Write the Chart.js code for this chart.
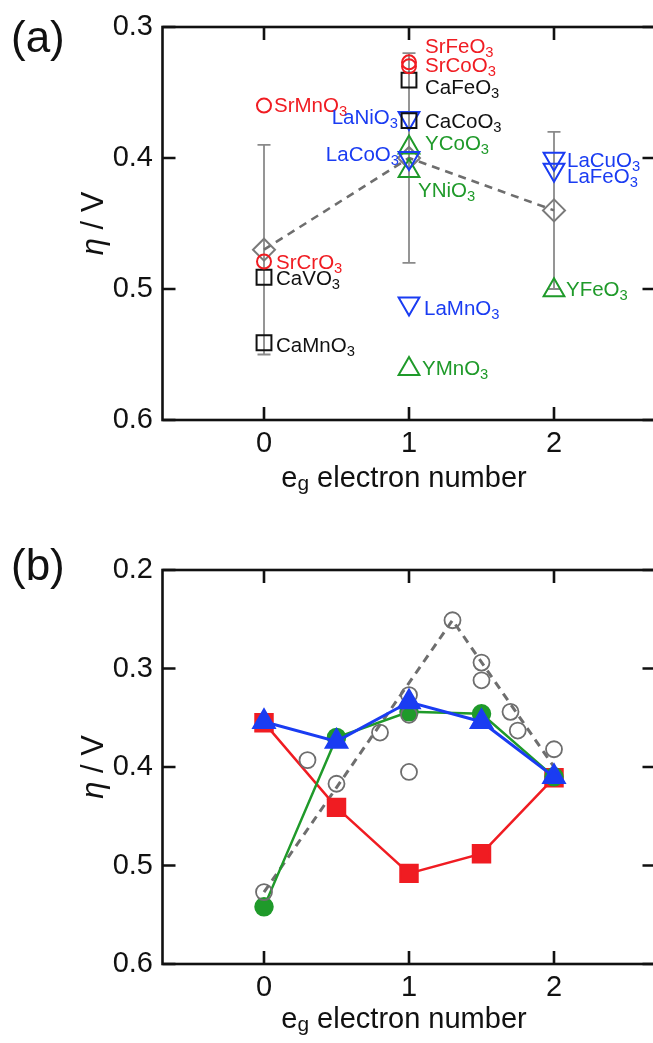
<!DOCTYPE html>
<html><head><meta charset="utf-8">
<script src="https://cdn.jsdelivr.net/npm/chart.js@4.4.1/dist/chart.umd.min.js"></script>
<style>
html,body{margin:0;padding:0;background:#fff;overflow:hidden;width:653px;height:1043px}
.wrap{position:absolute;left:0;width:664px}
#wa{top:0;height:510px}
#wb{top:510px;height:533px}
canvas{display:block}
</style></head><body>
<div id="wa" class="wrap"><canvas id="ca" width="664" height="510"></canvas></div>
<div id="wb" class="wrap"><canvas id="cb" width="664" height="533"></canvas></div>
<script>
// ---------- data ----------
const egTicks = [0, 1, 2];
const etaTicksA = [0.3, 0.4, 0.5, 0.6];
const etaTicksB = [0.2, 0.3, 0.4, 0.5, 0.6];

// panel (a)
const srNames = ['SrMnO3', 'SrCrO3', 'SrFeO3', 'SrCoO3'];
const srEg    = [0, 0, 1, 1];
const srEta   = [0.360, 0.479, 0.327, 0.330];

const caNames = ['CaVO3', 'CaMnO3', 'CaFeO3', 'CaCoO3'];
const caEg    = [0, 0, 1, 1];
const caEta   = [0.491, 0.541, 0.3405, 0.3715];

const laNames = ['LaNiO3', 'LaCoO3', 'LaMnO3', 'LaCuO3', 'LaFeO3'];
const laEg    = [1, 1, 1, 2, 2];
const laEta   = [0.3695, 0.400, 0.511, 0.4005, 0.409];

const yNames  = ['YCoO3', 'YNiO3', 'YMnO3', 'YFeO3'];
const yEg     = [1, 1, 1, 2];
const yEta    = [0.392, 0.410, 0.561, 0.501];

const avgEg   = [0, 1, 2];
const avgEta  = [0.470, 0.400, 0.440];
const avgErr  = [0.080, 0.080, 0.060];

// panel (b)
const bEg     = [0, 0.5, 1, 1.5, 2];
const bRed    = [0.355, 0.441, 0.508, 0.488, 0.411];
const bGreen  = [0.542, 0.370, 0.344, 0.346, 0.410];
const bBlue   = [0.354, 0.374, 0.334, 0.354, 0.410];
const greyEg  = [0, 0.3, 0.5, 0.8, 1, 1, 1, 1.3, 1.5, 1.5, 1.7, 1.75, 2];
const greyEta = [0.527, 0.393, 0.417, 0.365, 0.327, 0.347, 0.405, 0.251, 0.294, 0.312, 0.344, 0.363, 0.382];
const volcanoEg  = [0, 1.3, 2];
const volcanoEta = [0.527, 0.251, 0.400];

// ---------- styling ----------
const FONT = "'Liberation Sans', Arial, Helvetica, sans-serif";
const RED = '#f01c22', BLUE = '#1a3cf2', GREEN = '#1f9a2a', BLACK = '#111111', GREY = '#7a7a7a';

// label offsets (px) relative to marker: [dx, dy, align]
const labelPlace = {
  SrMnO3: [10, -1, 'left'], SrCrO3: [12, 0, 'left'], SrFeO3: [16, -17, 'left'], SrCoO3: [16, -2, 'left'],
  CaVO3: [12, 0, 'left'], CaMnO3: [12, 2, 'left'], CaFeO3: [16, 7, 'left'], CaCoO3: [16, 0, 'left'],
  LaNiO3: [-11, -1.5, 'right'], LaCoO3: [-10, -4, 'right'], LaMnO3: [15, 4, 'left'],
  LaCuO3: [13, 1, 'left'], LaFeO3: [13, 6, 'left'],
  YCoO3: [16, -5, 'left'], YNiO3: [9, 19, 'left'], YMnO3: [13, -1.5, 'left'], YFeO3: [12, -2, 'left']
};

function pts(xs, ys) { return xs.map((x, i) => ({ x: x, y: ys[i] })); }

function chemParts(s) {
  const out = []; const re = /(\d+)|([^\d]+)/g; let m;
  while ((m = re.exec(s))) out.push(m[1] ? [m[1], 's'] : [m[2], 'n']);
  return out;
}

function drawRich(ctx, parts, x, y, align, size, color, subDy) {
  ctx.save();
  ctx.fillStyle = color; ctx.textBaseline = 'alphabetic'; ctx.textAlign = 'left';
  const fonts = parts.map(p => {
    const s = p[1] === 's' ? size * 0.72 : size;
    return (p[1] === 'i' ? 'italic ' : '') + s + 'px ' + FONT;
  });
  let w = 0;
  const ws = parts.map((p, i) => { ctx.font = fonts[i]; const m = ctx.measureText(p[0]).width; w += m; return m; });
  let cx = align === 'right' ? x - w : align === 'center' ? x - w / 2 : x;
  parts.forEach((p, i) => {
    ctx.font = fonts[i];
    ctx.fillText(p[0], cx, y + (p[1] === 's' ? subDy : 0));
    cx += ws[i];
  });
  ctx.restore();
}

// frame with inward ticks on all four sides
const framePlugin = {
  id: 'frame',
  afterDraw(chart) {
    const { ctx, chartArea: a, scales: { x, y } } = chart;
    ctx.save();
    ctx.strokeStyle = BLACK; ctx.lineWidth = 2.6; ctx.lineCap = 'butt';
    ctx.strokeRect(a.left, a.top, a.right - a.left, a.bottom - a.top);
    const L = 13;
    ctx.beginPath();
    x.ticks.forEach(t => {
      const px = x.getPixelForValue(t.value);
      ctx.moveTo(px, a.bottom); ctx.lineTo(px, a.bottom - L);
      ctx.moveTo(px, a.top); ctx.lineTo(px, a.top + L);
    });
    y.ticks.forEach(t => {
      const py = y.getPixelForValue(t.value);
      ctx.moveTo(a.left, py); ctx.lineTo(a.left + L, py);
      ctx.moveTo(a.right, py); ctx.lineTo(a.right - L, py);
    });
    ctx.stroke();
    ctx.restore();
  }
};

function titlesPlugin(cfg) {
  return {
    id: 'titles' + cfg.letter,
    afterDraw(chart) {
      const { ctx, chartArea: a } = chart;
      ctx.save();
      ctx.fillStyle = BLACK; ctx.font = '44px ' + FONT; ctx.textBaseline = 'alphabetic'; ctx.textAlign = 'left';
      ctx.fillText(cfg.letter, 11, cfg.letterY);
      ctx.restore();
      ctx.save();
      ctx.translate(103, (a.top + a.bottom) / 2);
      ctx.rotate(-Math.PI / 2);
      drawRich(ctx, [['η', 'i'], [' / V', 'n']], 0, 0, 'center', 31, BLACK, 0);
      ctx.restore();
      drawRich(ctx, [['e', 'n'], ['g', 's'], [' electron number', 'n']],
        (a.left + a.right) / 2 - 5, cfg.xTitleY, 'center', 29, BLACK, 3);
    }
  };
}

function errorBarPlugin(xs, ys, es) {
  return {
    id: 'errbars',
    beforeDatasetsDraw(chart) {
      const { ctx, scales: { x, y } } = chart;
      ctx.save();
      ctx.strokeStyle = '#8a8a8a'; ctx.lineWidth = 1.8;
      ctx.beginPath();
      xs.forEach((v, i) => {
        const px = x.getPixelForValue(v);
        const p1 = y.getPixelForValue(ys[i] - es[i]);
        const p2 = y.getPixelForValue(ys[i] + es[i]);
        ctx.moveTo(px, p1); ctx.lineTo(px, p2);
        ctx.moveTo(px - 6.5, p1); ctx.lineTo(px + 6.5, p1);
        ctx.moveTo(px - 6.5, p2); ctx.lineTo(px + 6.5, p2);
      });
      ctx.stroke();
      ctx.restore();
    }
  };
}

function chemLabelPlugin(groups) {
  return {
    id: 'chemLabels',
    afterDatasetsDraw(chart) {
      const { ctx, scales: { x, y } } = chart;
      groups.forEach(g => g.names.forEach((nm, i) => {
        const p = labelPlace[nm];
        const px = x.getPixelForValue(g.eg[i]) + p[0];
        const py = y.getPixelForValue(g.eta[i]) + p[1];
        drawRich(ctx, chemParts(nm), px, py + 0.358 * 20.5, p[2], 20.5, g.color, 4);
      }));
    }
  };
}

function makeOptions(yTicks, topPad, xHeight) {
  return {
    responsive: false, animation: false, events: [],
    layout: { autoPadding: false, padding: { left: 0, top: topPad, right: 8.5, bottom: 0 } },
    plugins: { legend: { display: false }, tooltip: { enabled: false } },
    scales: {
      x: {
        type: 'linear', min: -0.7, max: 2.7,
        grid: { display: false, drawTicks: false }, border: { display: false },
        afterBuildTicks: s => { s.ticks = egTicks.map(v => ({ value: v })); },
        afterFit: s => { s.height = xHeight; },
        ticks: { font: { family: FONT, size: 29 }, color: BLACK, padding: 7, maxRotation: 0,
                 callback: v => String(v) }
      },
      y: {
        type: 'linear', reverse: true, min: yTicks[0], max: yTicks[yTicks.length - 1],
        grid: { display: false, drawTicks: false }, border: { display: false },
        afterBuildTicks: s => { s.ticks = yTicks.map(v => ({ value: v })); },
        afterFit: s => { s.width = 162.5; },
        ticks: { font: { family: FONT, size: 29 }, color: BLACK, padding: 9.5,
                 callback: v => Number(v).toFixed(1) }
      }
    }
  };
}

const open = 'rgba(0,0,0,0)';

// ---------- chart (a) ----------
new Chart(document.getElementById('ca'), {
  type: 'scatter',
  data: {
    datasets: [
      { data: pts(srEg, srEta), pointStyle: 'circle', pointRadius: 7, borderColor: RED, backgroundColor: open, borderWidth: 2 },
      { data: pts(caEg, caEta), pointStyle: 'rect', pointRadius: 10.5, borderColor: BLACK, backgroundColor: open, borderWidth: 2 },
      { data: pts(laEg, laEta), pointStyle: 'triangle', pointRotation: 180, pointRadius: 12, borderColor: BLUE, backgroundColor: open, borderWidth: 2 },
      { data: pts(yEg, yEta), pointStyle: 'triangle', pointRadius: 12, borderColor: GREEN, backgroundColor: open, borderWidth: 2 },
      { data: pts(avgEg, avgEta), pointStyle: 'rectRot', pointRadius: 11, borderColor: GREY, backgroundColor: open, borderWidth: 2 },
      { data: pts(avgEg, avgEta), showLine: true, pointRadius: 0, borderColor: '#6e6e6e', borderWidth: 2.6, borderDash: [8, 6], fill: false }
    ]
  },
  options: makeOptions(etaTicksA, 27, 90),
  plugins: [
    errorBarPlugin(avgEg, avgEta, avgErr),
    chemLabelPlugin([
      { names: srNames, eg: srEg, eta: srEta, color: RED },
      { names: caNames, eg: caEg, eta: caEta, color: BLACK },
      { names: laNames, eg: laEg, eta: laEta, color: BLUE },
      { names: yNames, eg: yEg, eta: yEta, color: GREEN }
    ]),
    framePlugin,
    titlesPlugin({ letter: '(a)', letterY: 52, xTitleY: 487 })
  ]
});

// ---------- chart (b) ----------
new Chart(document.getElementById('cb'), {
  type: 'scatter',
  data: {
    datasets: [
      { data: pts(bEg, bBlue), showLine: true, pointStyle: 'triangle', pointRadius: 11.5, borderColor: BLUE, backgroundColor: BLUE, pointBackgroundColor: BLUE, borderWidth: 3 },
      { data: pts(greyEg, greyEta), pointStyle: 'circle', pointRadius: 8, borderColor: '#6e6e6e', backgroundColor: open, borderWidth: 1.8 },
      { data: pts(bEg, bGreen), showLine: true, pointStyle: 'circle', pointRadius: 8.5, borderColor: GREEN, backgroundColor: GREEN, pointBackgroundColor: GREEN, borderWidth: 2.5 },
      { data: pts(bEg, bRed), showLine: true, pointStyle: 'rect', pointRadius: 12, borderColor: RED, backgroundColor: RED, pointBackgroundColor: RED, borderWidth: 2.5 },
      { data: pts(volcanoEg, volcanoEta), showLine: true, pointRadius: 0, borderColor: '#6e6e6e', borderWidth: 3, borderDash: [8, 6], fill: false }
    ]
  },
  options: makeOptions(etaTicksB, 60, 79),
  plugins: [framePlugin, titlesPlugin({ letter: '(b)', letterY: 70, xTitleY: 518 })]
});
</script>
</body></html>
